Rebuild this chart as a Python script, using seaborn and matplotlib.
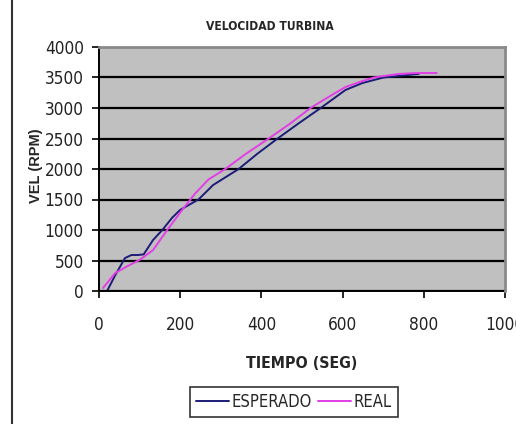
import matplotlib
matplotlib.use("Agg")
import matplotlib.pyplot as plt
from matplotlib import font_manager
from matplotlib.patches import Rectangle
from matplotlib.lines import Line2D
import seaborn as sns
import pandas as pd

# ---- data ----
esperado_t = [20, 40, 64, 80, 96, 110, 133, 156, 180, 200, 245, 281, 344, 390, 440, 490, 546, 607, 649, 701, 736, 788]
esperado_v = [0, 260, 540, 590, 590, 600, 835, 1000, 1200, 1330, 1500, 1737, 2000, 2250, 2500, 2740, 3000, 3295, 3410, 3500, 3524, 3560]

real_t = [10, 40, 68, 100, 133, 168, 205, 237, 270, 311, 360, 418, 470, 521, 570, 607, 649, 677, 736, 780, 832]
real_v = [50, 295, 400, 510, 670, 1000, 1330, 1600, 1830, 2000, 2240, 2500, 2740, 3000, 3200, 3344, 3442, 3500, 3557, 3573, 3573]

series_names = ["ESPERADO", "REAL"]
x_ticks = [0, 200, 400, 600, 800, 1000]
y_ticks = [0, 500, 1000, 1500, 2000, 2500, 3000, 3500, 4000]
title = "VELOCIDAD TURBINA"
x_label = "TIEMPO (SEG)"
y_label = "VEL (RPM)"

df = pd.concat([
    pd.DataFrame({"t": esperado_t, "v": esperado_v, "serie": series_names[0]}),
    pd.DataFrame({"t": real_t, "v": real_v, "serie": series_names[1]}),
])

sns.set_theme(style="white")

# pick a narrow font if one is installed
fonts = font_manager.fontManager.ttflist
names = {f.name for f in fonts}
dejavu_cond = any(f.name == "DejaVu Sans" and f.stretch == "condensed" for f in fonts)
if "Liberation Sans Narrow" in names:
    NFAM, NSTRETCH, SCALE = ["Liberation Sans Narrow", "DejaVu Sans"], "normal", 1.0
elif dejavu_cond:
    NFAM, NSTRETCH, SCALE = ["DejaVu Sans"], "condensed", 0.88
else:
    NFAM, NSTRETCH, SCALE = ["Liberation Sans", "DejaVu Sans"], "normal", 0.8
plt.rcParams["font.family"] = NFAM
plt.rcParams["font.stretch"] = NSTRETCH

def fs(v):
    return v * SCALE

colors = {"ESPERADO": "#1c1c78", "REAL": "#e23ee6"}

fig = plt.figure(figsize=(5.16, 4.24), dpi=100)
fig.patch.set_facecolor("white")
ax = fig.add_axes([99/516, 1-291/424, (505-99)/516, (291-47)/424])
ax.set_facecolor("#c0c0c0")

sns.lineplot(data=df, x="t", y="v", hue="serie", palette=colors, ax=ax,
             linewidth=1.4, legend=False, sort=False, estimator=None)

ax.set_xlim(0, 1000)
ax.set_ylim(0, 4000)
ax.set_xticks(x_ticks)
ax.set_yticks(y_ticks)
ax.set_xticklabels([str(v) for v in x_ticks], fontsize=fs(14), stretch=NSTRETCH)
ax.set_yticklabels([str(v) for v in y_ticks], fontsize=fs(14), stretch=NSTRETCH)
ax.tick_params(axis="both", direction="out", length=5, width=1.2, color="black",
               labelcolor="#222222")
ax.tick_params(axis="y", pad=6)
ax.tick_params(axis="x", pad=13)
ax.tick_params(left=True, bottom=True)
ax.yaxis.grid(True, color="black", linewidth=1.6)
ax.xaxis.grid(False)
ax.set_axisbelow(True)

for s in ["left", "bottom"]:
    ax.spines[s].set_color("black")
    ax.spines[s].set_linewidth(1.4)
for s in ["top", "right"]:
    ax.spines[s].set_color("#8a8a8a")
    ax.spines[s].set_linewidth(2.0)
    ax.spines[s].set_zorder(3)

ax.set_xlabel("")
ax.set_ylabel("")

fig.text(270/516, 1-27/424, title, fontsize=fs(9.8), fontweight="bold",
         ha="center", va="center", stretch=NSTRETCH)
fig.text(36/516, 1-166/424, y_label, fontsize=10.5, fontweight="bold",
         rotation=90, ha="center", va="center", family=["Liberation Sans", "DejaVu Sans"],
         stretch="normal")
fig.text(302/516, 1-363/424, x_label, fontsize=fs(13), fontweight="bold",
         ha="center", va="center", stretch=NSTRETCH)

handles = [Line2D([0], [0], color=colors[n], linewidth=1.4) for n in series_names]
leg = fig.legend(handles, series_names, loc="center", bbox_to_anchor=(294/516, 1-402/424),
                 ncol=2, frameon=True, handlelength=2.0, handletextpad=0.15,
                 columnspacing=0.4, borderpad=0.35, borderaxespad=0, fancybox=False,
                 prop={"size": fs(13.5), "stretch": NSTRETCH, "family": NFAM})
leg.get_frame().set_edgecolor("black")
leg.get_frame().set_linewidth(1.2)

# outer chart frame (cropped on the right and bottom in the reference)
fig.patches.append(Rectangle((12/516, -0.2), 1.2, 1.2 + (1-10/424), transform=fig.transFigure,
                             fill=False, edgecolor="#333333", linewidth=1.5, zorder=0))

fig.savefig("out.png", dpi=100)
